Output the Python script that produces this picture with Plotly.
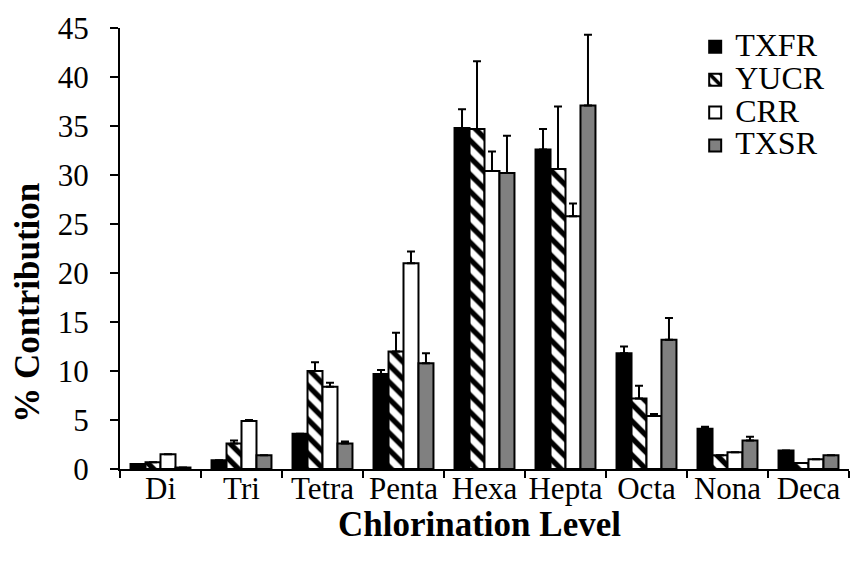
import plotly.graph_objects as go

# Chlorination levels (homolog groups)
levels = ["Di", "Tri", "Tetra", "Penta", "Hexa", "Hepta", "Octa", "Nona", "Deca"]

# Mean % contribution per site
txfr = [0.5, 0.9, 3.6, 9.7, 34.8, 32.6, 11.8, 4.1, 1.9]
yucr = [0.7, 2.6, 10.0, 12.0, 34.7, 30.6, 7.2, 1.4, 0.6]
crr = [1.5, 4.9, 8.4, 21.0, 30.4, 25.8, 5.4, 1.7, 1.0]
txsr = [0.15, 1.4, 2.6, 10.8, 30.2, 37.1, 13.2, 2.9, 1.4]

# Standard deviations (plotted as upward error bars)
txfr_err = [0, 0, 0, 0.4, 1.9, 2.1, 0.7, 0.2, 0]
yucr_err = [0, 0.3, 0.9, 1.9, 6.9, 6.4, 1.3, 0, 0]
crr_err = [0, 0.1, 0.4, 1.2, 2.0, 1.3, 0.2, 0, 0]
txsr_err = [0, 0, 0.2, 1.0, 3.8, 7.2, 2.2, 0.4, 0]

y_ticks = [0, 5, 10, 15, 20, 25, 30, 35, 40, 45]

FONT = "Liberation Serif"
LEGEND_FONT = "Times New Roman"

series = [
    ("TXFR", txfr, txfr_err, dict(color="black")),
    ("YUCR", yucr, yucr_err, dict(color="white",
                                  pattern=dict(shape="\\", fgcolor="black", bgcolor="white",
                                               size=12, solidity=0.45, fillmode="replace"))),
    ("CRR", crr, crr_err, dict(color="white")),
    ("TXSR", txsr, txsr_err, dict(color="#808080")),
]

fig = go.Figure()
for name, vals, errs, marker in series:
    marker = dict(marker)
    marker["line"] = dict(color="black", width=2)
    fig.add_trace(go.Bar(
        name=f"<span style='font-size:32px'>{name}</span>",
        x=levels, y=vals, marker=marker,
        error_y=dict(type="data", array=errs, arrayminus=[0] * len(errs),
                     symmetric=False, color="black", thickness=2, width=4),
    ))

# Axis titles as free annotations so they can sit off-centre
fig.add_annotation(text="<b>% Contribution</b>", xref="paper", yref="paper",
                   x=-0.128, y=0.376, xanchor="center", yanchor="middle",
                   textangle=-90, showarrow=False, font=dict(family=FONT, size=35))
fig.add_annotation(text="<b>Chlorination Level</b>", xref="paper", yref="paper",
                   x=0.4925, y=-0.126, xanchor="center", yanchor="middle",
                   showarrow=False, font=dict(family=FONT, size=35))

fig.update_layout(
    width=853, height=562,
    barmode="group", bargap=0.26, bargroupgap=0,
    plot_bgcolor="white", paper_bgcolor="white",
    margin=dict(l=120, r=4, t=28, b=93, autoexpand=False),
    font=dict(family=FONT, size=31, color="black"),
    legend=dict(x=0.789, y=1.006, xanchor="left", yanchor="top",
                font=dict(family=LEGEND_FONT, size=23, color="black"),
                itemwidth=30, tracegroupgap=0, bgcolor="rgba(0,0,0,0)"),
    showlegend=True,
)
fig.update_xaxes(
    showline=True, linecolor="black", linewidth=2,
    ticks="outside", tickson="boundaries", ticklen=7, tickwidth=2, tickcolor="black",
    tickfont=dict(family=FONT, size=31), tickangle=0, automargin=False,
    ticklabelstandoff=-9,
    showgrid=False,
)
fig.update_yaxes(
    range=[0, 45], tickvals=y_ticks,
    showline=True, linecolor="black", linewidth=2,
    ticks="outside", ticklen=8, tickwidth=2, tickcolor="black",
    tickfont=dict(family=FONT, size=31), ticklabelstandoff=15, automargin=False,
    showgrid=False, zeroline=False,
)

fig.write_html("out.html")
